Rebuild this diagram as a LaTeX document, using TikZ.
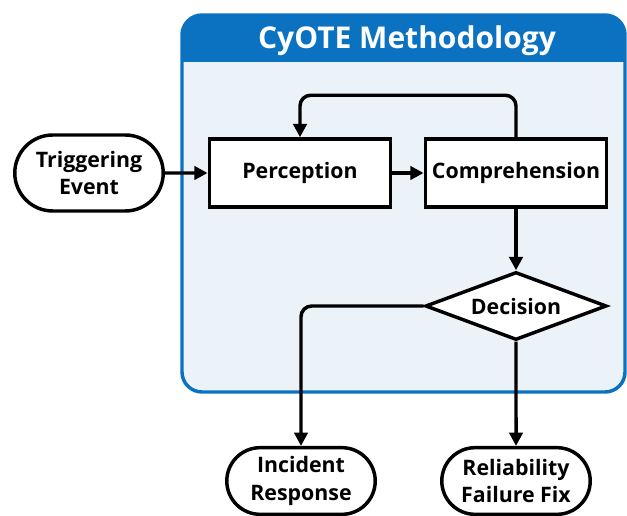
\documentclass[tikz,border=0pt]{standalone}
\usepackage{fontspec}
\setmainfont{Open Sans}
\usetikzlibrary{positioning,shapes.geometric,shapes.misc,arrows.meta}
\definecolor{cyoteblue}{HTML}{0A72C0}
\definecolor{cyotelight}{HTML}{EBF3F8}

\begin{document}
\begin{tikzpicture}[x=0.75pt,y=-0.75pt,
    every node/.style={font=\fontsize{16}{20.5}\selectfont\bfseries,align=center},
    stepbox/.style={rectangle,draw,fill=white,line width=2.6pt,minimum width=136pt,minimum height=51pt},
    terminal/.style={rounded rectangle,draw,fill=white,line width=2.6pt,minimum width=118pt,minimum height=50pt},
    choice/.style={diamond,draw,fill=white,line width=2.6pt,aspect=2.66,inner sep=0pt,minimum width=136pt,minimum height=51pt},
    flow/.style={line width=2.6pt,-{Triangle[length=10pt,width=10pt]},rounded corners=8pt}]

    \useasboundingbox (0,0) rectangle (627,516);
    % methodology frame
    \fill[cyotelight,rounded corners=15pt] (182,15) rectangle (625,392);
    \begin{scope}
        \clip[rounded corners=15pt] (182,15) rectangle (625,392);
        \fill[cyoteblue] (182,15) rectangle (625,62);
    \end{scope}
    \draw[cyoteblue,line width=2.6pt,rounded corners=15pt] (182,15) rectangle (625,392);
    \node[text=white,font=\fontsize{22.5}{26}\selectfont\bfseries] (title) at (407,41) {CyOTE Methodology};

    \node[terminal,minimum height=57pt] (trigger) at (89,173) {Triggering\\Event};
    \node[stepbox] (perception) at (300,173) {Perception};
    \node[stepbox] (comprehension) at (516,173) {Comprehension};
    \node[choice] (decision) at (516,306) {Decision};
    \node[terminal] (incident) at (301,481) {Incident\\Response};
    \node[terminal] (fix) at (516,481) {Reliability\\Failure Fix};

    \draw[flow] (trigger) -- (perception);
    \draw[flow] (perception) -- (comprehension);
    \draw[flow] (comprehension.north) -- ++(0,-42) -| (perception.north);
    \draw[flow] (comprehension) -- (decision);
    \draw[flow] (decision.west) -| (incident.north);
    \draw[flow] (decision) -- (fix);
\end{tikzpicture}
\end{document}
